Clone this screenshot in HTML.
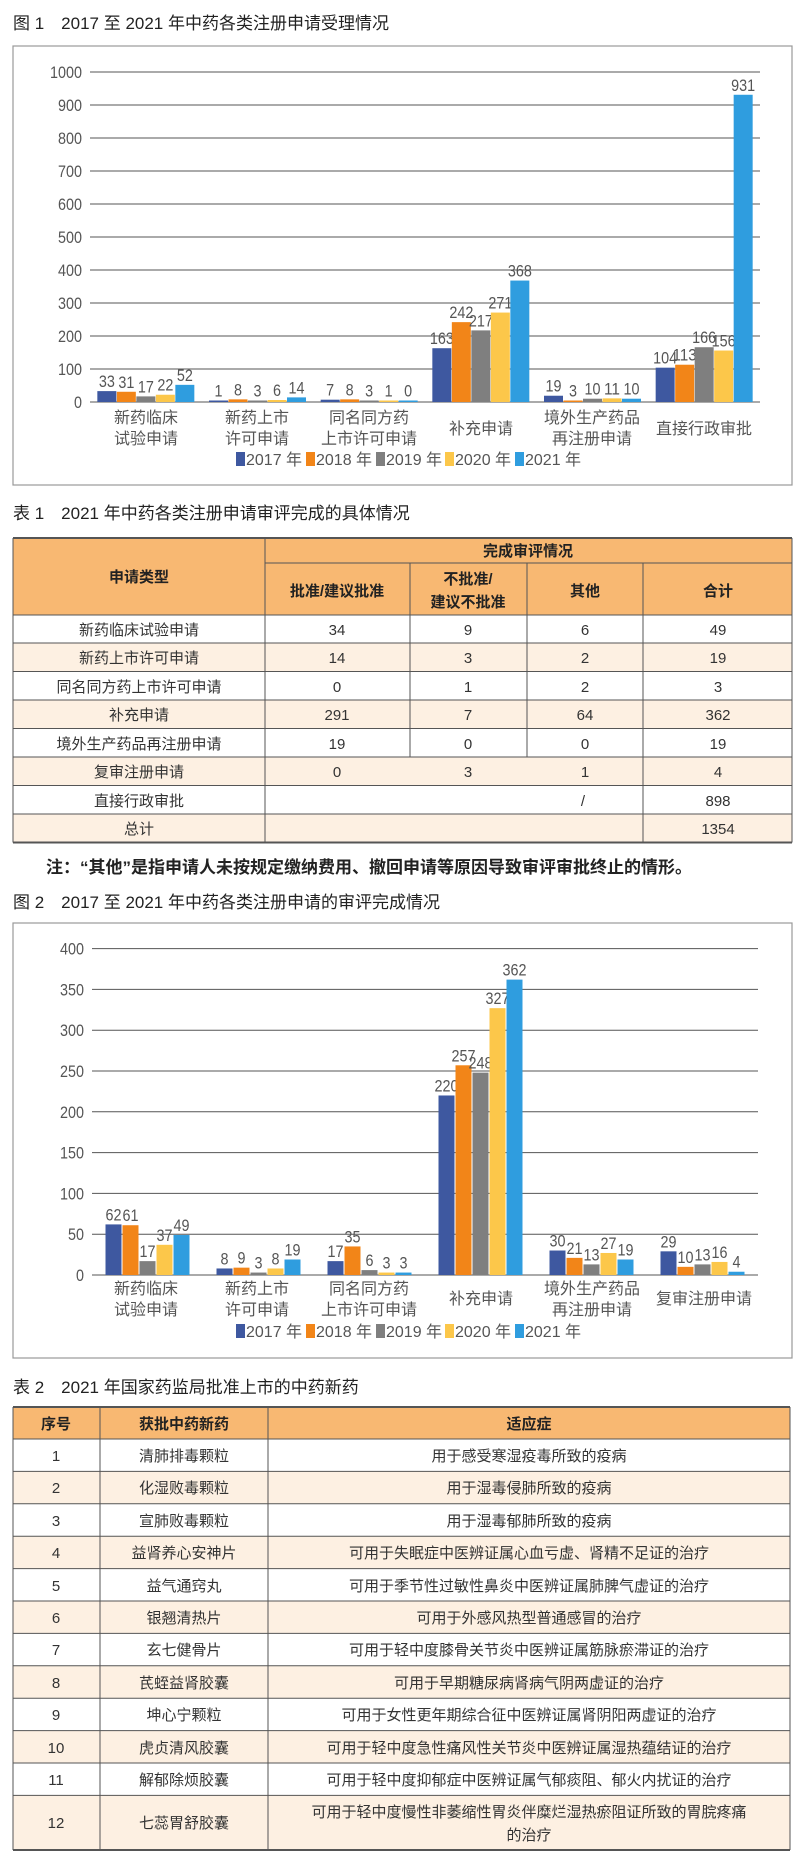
<!DOCTYPE html>
<html><head><meta charset="utf-8">
<style>
html,body{margin:0;padding:0;background:#fff;}
svg{display:block;font-family:"Liberation Sans Narrow","Liberation Sans","Noto Sans CJK SC",sans-serif;}
.t{font-size:17px;fill:#222;font-family:"Liberation Sans","Noto Sans CJK SC",sans-serif;}
.ax{font-size:17px;fill:#555;}
.cat{font-size:16px;fill:#555;font-family:"Liberation Sans Narrow","Liberation Sans","Noto Sans CJK SC",sans-serif;}
.tb{font-size:15px;fill:#333;font-family:"Liberation Sans Narrow","Liberation Sans","Noto Sans CJK SC",sans-serif;}
.th{font-size:15px;fill:#222;font-weight:bold;font-family:"Liberation Sans","Noto Sans CJK SC",sans-serif;}
</style></head>
<body>
<svg id="s" width="802" height="1865" viewBox="0 0 802 1865" xmlns="http://www.w3.org/2000/svg">
<text class="t" x="13" y="29">图 1　2017 至 2021 年中药各类注册申请受理情况</text>
<rect x="13" y="46" width="779" height="439" fill="none" stroke="#999" stroke-width="1.2"/>
<g id="c1"></g>
<g class="cat" text-anchor="middle">
<text x="146" y="423">新药临床</text><text x="146" y="444">试验申请</text>
<text x="257" y="423">新药上市</text><text x="257" y="444">许可申请</text>
<text x="369" y="423">同名同方药</text><text x="369" y="444">上市许可申请</text>
<text x="481" y="434">补充申请</text>
<text x="592" y="423">境外生产药品</text><text x="592" y="444">再注册申请</text>
<text x="704" y="434">直接行政审批</text>
</g>
<g class="cat">
<rect x="236" y="452" width="9" height="14" fill="#3e58a0"/><text x="246" y="465">2017 年</text>
<rect x="306" y="452" width="9" height="14" fill="#f28518"/><text x="316" y="465">2018 年</text>
<rect x="376" y="452" width="9" height="14" fill="#7f7f7f"/><text x="386" y="465">2019 年</text>
<rect x="445" y="452" width="9" height="14" fill="#fcc74a"/><text x="455" y="465">2020 年</text>
<rect x="515" y="452" width="9" height="14" fill="#2f9ddf"/><text x="525" y="465">2021 年</text>
</g>

<text class="t" x="13" y="519">表 1　2021 年中药各类注册申请审评完成的具体情况</text>
<g id="t1">
<rect x="13" y="538" width="779" height="77" fill="#f8b872"/>
<rect x="13" y="643" width="779" height="28.5" fill="#fdf0e2"/>
<rect x="13" y="700" width="779" height="28.5" fill="#fdf0e2"/>
<rect x="13" y="757" width="779" height="28.5" fill="#fdf0e2"/>
<rect x="13" y="814" width="779" height="28.5" fill="#fdf0e2"/>
<g stroke="#555" stroke-width="1">
<line x1="13" y1="538" x2="792" y2="538" stroke-width="2"/>
<line x1="265" y1="563" x2="792" y2="563"/>
<line x1="13" y1="615" x2="792" y2="615"/>
<line x1="13" y1="643" x2="792" y2="643"/>
<line x1="13" y1="671.5" x2="792" y2="671.5"/>
<line x1="13" y1="700" x2="792" y2="700"/>
<line x1="13" y1="728.5" x2="792" y2="728.5"/>
<line x1="13" y1="757" x2="792" y2="757"/>
<line x1="13" y1="785.5" x2="792" y2="785.5"/>
<line x1="13" y1="814" x2="792" y2="814"/>
<line x1="13" y1="842.5" x2="792" y2="842.5" stroke-width="2"/>
<line x1="13" y1="538" x2="13" y2="842.5"/>
<line x1="792" y1="538" x2="792" y2="842.5"/>
<line x1="265" y1="538" x2="265" y2="842.5"/>
<line x1="410" y1="563" x2="410" y2="757"/>
<line x1="527" y1="563" x2="527" y2="757"/>
<line x1="643" y1="563" x2="643" y2="842.5"/>
</g>
<g class="th" text-anchor="middle">
<text x="139" y="582">申请类型</text>
<text x="528" y="556">完成审评情况</text>
<text x="337" y="596">批准/建议批准</text>
<text x="468" y="584">不批准/</text><text x="468" y="607">建议不批准</text>
<text x="585" y="596">其他</text>
<text x="718" y="596">合计</text>
</g>
<g class="tb" text-anchor="middle">
<text x="139" y="635">新药临床试验申请</text><text x="337" y="635">34</text><text x="468" y="635">9</text><text x="585" y="635">6</text><text x="718" y="635">49</text>
<text x="139" y="663">新药上市许可申请</text><text x="337" y="663">14</text><text x="468" y="663">3</text><text x="585" y="663">2</text><text x="718" y="663">19</text>
<text x="139" y="692">同名同方药上市许可申请</text><text x="337" y="692">0</text><text x="468" y="692">1</text><text x="585" y="692">2</text><text x="718" y="692">3</text>
<text x="139" y="720">补充申请</text><text x="337" y="720">291</text><text x="468" y="720">7</text><text x="585" y="720">64</text><text x="718" y="720">362</text>
<text x="139" y="749">境外生产药品再注册申请</text><text x="337" y="749">19</text><text x="468" y="749">0</text><text x="585" y="749">0</text><text x="718" y="749">19</text>
<text x="139" y="777">复审注册申请</text><text x="337" y="777">0</text><text x="468" y="777">3</text><text x="585" y="777">1</text><text x="718" y="777">4</text>
<text x="139" y="806">直接行政审批</text><text x="583" y="806">/</text><text x="718" y="806">898</text>
<text x="139" y="834">总计</text><text x="718" y="834">1354</text>
</g>
</g>
<text x="46" y="873" style="font-size:17px;fill:#222;font-weight:bold;font-family:'Liberation Sans','Noto Sans CJK SC',sans-serif">注：“其他”是指申请人未按规定缴纳费用、撤回申请等原因导致审评审批终止的情形。</text>

<text class="t" x="13" y="908">图 2　2017 至 2021 年中药各类注册申请的审评完成情况</text>
<rect x="13" y="923" width="779" height="435" fill="none" stroke="#999" stroke-width="1.2"/>
<g id="c2"></g>
<g class="cat" text-anchor="middle">
<text x="146" y="1294">新药临床</text><text x="146" y="1315">试验申请</text>
<text x="257" y="1294">新药上市</text><text x="257" y="1315">许可申请</text>
<text x="369" y="1294">同名同方药</text><text x="369" y="1315">上市许可申请</text>
<text x="481" y="1304">补充申请</text>
<text x="592" y="1294">境外生产药品</text><text x="592" y="1315">再注册申请</text>
<text x="704" y="1304">复审注册申请</text>
</g>
<g class="cat">
<rect x="236" y="1324" width="9" height="14" fill="#3e58a0"/><text x="246" y="1337">2017 年</text>
<rect x="306" y="1324" width="9" height="14" fill="#f28518"/><text x="316" y="1337">2018 年</text>
<rect x="376" y="1324" width="9" height="14" fill="#7f7f7f"/><text x="386" y="1337">2019 年</text>
<rect x="445" y="1324" width="9" height="14" fill="#fcc74a"/><text x="455" y="1337">2020 年</text>
<rect x="515" y="1324" width="9" height="14" fill="#2f9ddf"/><text x="525" y="1337">2021 年</text>
</g>

<text class="t" x="13" y="1393">表 2　2021 年国家药监局批准上市的中药新药</text>
<g id="t2">
<rect x="13" y="1407" width="777" height="32" fill="#f8b872"/>
<rect x="13" y="1471.4" width="777" height="32.4" fill="#fdf0e2"/>
<rect x="13" y="1536.2" width="777" height="32.4" fill="#fdf0e2"/>
<rect x="13" y="1601" width="777" height="32.4" fill="#fdf0e2"/>
<rect x="13" y="1665.8" width="777" height="32.4" fill="#fdf0e2"/>
<rect x="13" y="1730.6" width="777" height="32.4" fill="#fdf0e2"/>
<rect x="13" y="1795.4" width="777" height="54.6" fill="#fdf0e2"/>
<g stroke="#555" stroke-width="1">
<line x1="13" y1="1407" x2="790" y2="1407" stroke-width="2"/>
<line x1="13" y1="1439" x2="790" y2="1439"/>
<line x1="13" y1="1471.4" x2="790" y2="1471.4"/>
<line x1="13" y1="1503.8" x2="790" y2="1503.8"/>
<line x1="13" y1="1536.2" x2="790" y2="1536.2"/>
<line x1="13" y1="1568.6" x2="790" y2="1568.6"/>
<line x1="13" y1="1601" x2="790" y2="1601"/>
<line x1="13" y1="1633.4" x2="790" y2="1633.4"/>
<line x1="13" y1="1665.8" x2="790" y2="1665.8"/>
<line x1="13" y1="1698.2" x2="790" y2="1698.2"/>
<line x1="13" y1="1730.6" x2="790" y2="1730.6"/>
<line x1="13" y1="1763" x2="790" y2="1763"/>
<line x1="13" y1="1795.4" x2="790" y2="1795.4"/>
<line x1="13" y1="1850" x2="790" y2="1850" stroke-width="2"/>
<line x1="13" y1="1407" x2="13" y2="1850"/>
<line x1="100" y1="1407" x2="100" y2="1850"/>
<line x1="268" y1="1407" x2="268" y2="1850"/>
<line x1="790" y1="1407" x2="790" y2="1850"/>
</g>
<g class="th" text-anchor="middle">
<text x="56" y="1429">序号</text><text x="184" y="1429">获批中药新药</text><text x="529" y="1429">适应症</text>
</g>
<g class="tb" text-anchor="middle">
<text x="56" y="1461">1</text><text x="184" y="1461">清肺排毒颗粒</text><text x="529" y="1461">用于感受寒湿疫毒所致的疫病</text>
<text x="56" y="1493">2</text><text x="184" y="1493">化湿败毒颗粒</text><text x="529" y="1493">用于湿毒侵肺所致的疫病</text>
<text x="56" y="1526">3</text><text x="184" y="1526">宣肺败毒颗粒</text><text x="529" y="1526">用于湿毒郁肺所致的疫病</text>
<text x="56" y="1558">4</text><text x="184" y="1558">益肾养心安神片</text><text x="529" y="1558">可用于失眠症中医辨证属心血亏虚、肾精不足证的治疗</text>
<text x="56" y="1591">5</text><text x="184" y="1591">益气通窍丸</text><text x="529" y="1591">可用于季节性过敏性鼻炎中医辨证属肺脾气虚证的治疗</text>
<text x="56" y="1623">6</text><text x="184" y="1623">银翘清热片</text><text x="529" y="1623">可用于外感风热型普通感冒的治疗</text>
<text x="56" y="1655">7</text><text x="184" y="1655">玄七健骨片</text><text x="529" y="1655">可用于轻中度膝骨关节炎中医辨证属筋脉瘀滞证的治疗</text>
<text x="56" y="1688">8</text><text x="184" y="1688">芪蛭益肾胶囊</text><text x="529" y="1688">可用于早期糖尿病肾病气阴两虚证的治疗</text>
<text x="56" y="1720">9</text><text x="184" y="1720">坤心宁颗粒</text><text x="529" y="1720">可用于女性更年期综合征中医辨证属肾阴阳两虚证的治疗</text>
<text x="56" y="1753">10</text><text x="184" y="1753">虎贞清风胶囊</text><text x="529" y="1753">可用于轻中度急性痛风性关节炎中医辨证属湿热蕴结证的治疗</text>
<text x="56" y="1785">11</text><text x="184" y="1785">解郁除烦胶囊</text><text x="529" y="1785">可用于轻中度抑郁症中医辨证属气郁痰阻、郁火内扰证的治疗</text>
<text x="56" y="1828">12</text><text x="184" y="1828">七蕊胃舒胶囊</text><text x="529" y="1817">可用于轻中度慢性非萎缩性胃炎伴糜烂湿热瘀阻证所致的胃脘疼痛</text><text x="529" y="1840">的治疗</text>
</g>
</g>
</svg>
<script>
var NS="http://www.w3.org/2000/svg";
var cols=["#3e58a0","#f28518","#7f7f7f","#fcc74a","#2f9ddf"];
function el(p,n,a,t){var e=document.createElementNS(NS,n);for(var k in a)e.setAttribute(k,a[k]);if(t!=null)e.textContent=t;p.appendChild(e);return e;}
function num(p,x,y,anchor,s){
  return el(p,"text",{x:x,y:y,"text-anchor":anchor,"class":"ax",textLength:s.length*8,lengthAdjust:"spacingAndGlyphs"},s);
}
function chart(id,x0,x1,y0,ppu,step,max,data,bw,gap){
  var g=document.getElementById(id);
  for(var v=0;v<=max;v+=step){
    var y=y0-v*ppu;
    el(g,"line",{x1:x0,x2:x1,y1:y,y2:y,stroke:"#555","stroke-width":1});
    num(g,x0-8,y+6,"end",String(v));
  }
  var gw=(x1-x0)/6;
  for(var i=0;i<6;i++){
    var c=x0+gw*(i+0.5),tot=5*bw+4*gap,s=c-tot/2;
    for(var j=0;j<5;j++){
      var v=data[i][j],h=Math.max(v*ppu,1.5),x=s+j*(bw+gap);
      el(g,"rect",{x:x,y:y0-h,width:bw,height:h,fill:cols[j]});
      num(g,x+bw/2,y0-h-4,"middle",String(v));
    }
  }
}
chart("c1",90,760,402,0.33,100,1000,[[33,31,17,22,52],[1,8,3,6,14],[7,8,3,1,0],[163,242,217,271,368],[19,3,10,11,10],[104,113,166,156,931]],19,0.5);
chart("c2",92,758,1275,0.816,50,400,[[62,61,17,37,49],[8,9,3,8,19],[17,35,6,3,3],[220,257,248,327,362],[30,21,13,27,19],[29,10,13,16,4]],16,1);
</script>
</body></html>
